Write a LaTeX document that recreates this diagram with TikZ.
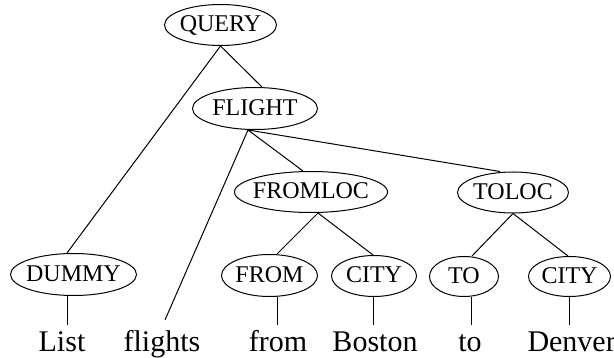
\documentclass[tikz,border=0pt]{standalone}
\usepackage{fontspec}
\setmainfont{Liberation Serif}
\usetikzlibrary{shapes.geometric}
\begin{document}
\begin{tikzpicture}[x=1pt,y=-1pt,line width=1pt,
  lab/.style={ellipse,draw,inner sep=-4pt,text height=14pt,text depth=0pt,
    font=\fontsize{24}{28}\selectfont},
  word/.style={anchor=base,inner sep=0pt,font=\fontsize{30}{36}\selectfont}]
\useasboundingbox (0,0) rectangle (614,358);

% parse-tree labels
\node[lab,minimum width=112pt,minimum height=41pt] (query)   at (220.5,25)  {QUERY};
\node[lab,minimum width=125pt,minimum height=42pt] (flight)  at (255,108.5) {FLIGHT};
\node[lab,minimum width=153pt,minimum height=41pt] (fromloc) at (311,192)   {FROMLOC};
\node[lab,minimum width=111pt,minimum height=41pt] (toloc)   at (513,192.5) {TOLOC};
\node[lab,minimum width=126pt,minimum height=42pt] (dummy)   at (73.5,274.5){DUMMY};
\node[lab,minimum width=96pt,minimum height=42pt]  (from)    at (269.5,275.5){FROM};
\node[lab,minimum width=85pt,minimum height=41pt]  (cityA)   at (374,276)   {CITY};
\node[lab,minimum width=69pt,minimum height=40pt]  (to)      at (464,276.5) {TO};
\node[lab,minimum width=82pt,minimum height=40pt]  (cityB)   at (569.5,276.5){CITY};

% sentence words
\node[word] (wList)    at (62,352)  {List};
\node[word] (wFlights) at (162,352) {flights};
\node[word] (wFrom)    at (278,352) {from};
\node[word] (wBoston)  at (375,352) {Boston};
\node[word] (wTo)      at (470,352) {to};
\node[word,anchor=base west] (wDenver) at (527,352) {Denver};

% lower ends of the word links
\coordinate (eList)    at (67,325);
\coordinate (eFlights) at (165,320);
\coordinate (eFrom)    at (277,325);
\coordinate (eBoston)  at (373,325);
\coordinate (eTo)      at (471,325);
\coordinate (eDenver)  at (569,325);

% tree edges
\draw (query.south) -- ([xshift=7pt]flight.north);
\draw (query.south) -- ([xshift=-6.5pt]dummy.north);
\draw ([xshift=-7pt]flight.south) -- ([xshift=-8pt]fromloc.north);
\draw ([xshift=-7pt]flight.south) -- ([xshift=-13pt]toloc.north);
\draw ([xshift=-7pt]flight.south) -- (eFlights);
\draw ([xshift=7pt]fromloc.south) -- ([xshift=7.5pt]from.north);
\draw ([xshift=7pt]fromloc.south) -- ([xshift=-1pt]cityA.north);
\draw (toloc.south) -- ([xshift=8pt]to.north);
\draw (toloc.south) -- ([xshift=-1.5pt]cityB.north);

% links down to the words
\draw ([xshift=-6.5pt]dummy.south) -- (eList);
\draw ([xshift=7.5pt]from.south) -- (eFrom);
\draw ([xshift=-1pt]cityA.south) -- (eBoston);
\draw ([xshift=7pt]to.south) -- (eTo);
\draw ([xshift=-0.5pt]cityB.south) -- (eDenver);
\end{tikzpicture}
\end{document}
